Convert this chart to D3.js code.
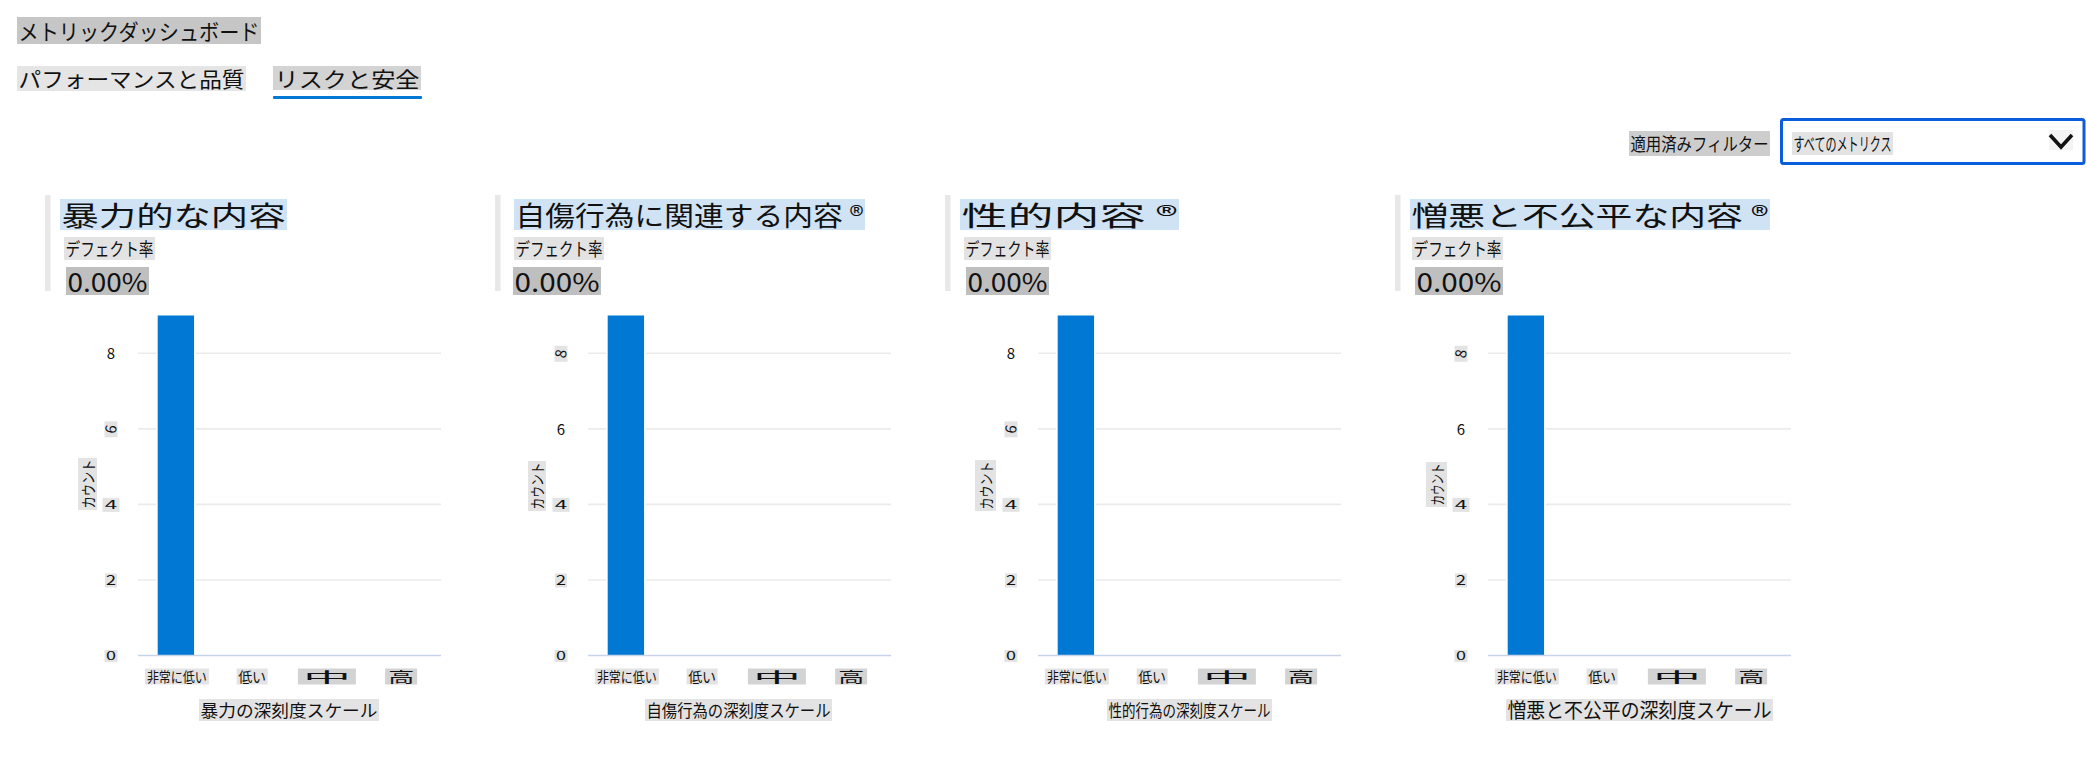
<!DOCTYPE html>
<html lang="ja">
<head>
<meta charset="utf-8">
<title>メトリックダッシュボード</title>
<script src="https://cdn.jsdelivr.net/npm/d3@7"></script>
<style>
html,body{margin:0;padding:0;background:#fff;}
svg{display:block;}
text{font-family:"Noto Sans CJK JP","Noto Sans",sans-serif;fill:#111;}
</style>
</head>
<body>
<div id="chart"></div>
<script>
// ---- data ----
const categories = ["非常に低い", "低い", "中", "高"];
const violenceCounts = [9, 0, 0, 0];
const selfHarmCounts = [9, 0, 0, 0];
const sexualCounts = [9, 0, 0, 0];
const hateCounts = [9, 0, 0, 0];
const yTicks = [0, 2, 4, 6, 8];
const yMax = 9;
const panelTitles = ["暴力的な内容", "自傷行為に関連する内容 ®", "性的内容 ®", "憎悪と不公平な内容 ®"];
const xTitles = ["暴力の深刻度スケール", "自傷行為の深刻度スケール", "性的行為の深刻度スケール", "憎悪と不公平の深刻度スケール"];
const defectRates = ["0.00%", "0.00%", "0.00%", "0.00%"];
const defectLabel = "デフェクト率";
const yTitle = "カウント";
const pageTitle = "メトリックダッシュボード";
const tabs = ["パフォーマンスと品質", "リスクと安全"];
const filterLabel = "適用済みフィルター";
const filterValue = "すべてのメトリクス";
const panelCounts = [violenceCounts, selfHarmCounts, sexualCounts, hateCounts];

// ---- layout (not data) ----
const W = 2086, H = 762;
const plotX = [138, 588, 1038, 1488], plotW = 303;
const plotTop = 315.5, plotBottom = 655.5;
const cardBar = [45, 495, 945, 1395];
const titleBox = [[60,287],[514,865],[960,1179],[1410,1770]];
const defectBox = [[64,155],[514,604],[964,1051],[1412,1503]];
const rateBox = [[66,149],[513,601],[966,1049],[1415,1503]];
const yTitleBox = [[78,97,456,508],[528,546,459,509],[975,996,458,509],[1426,1447,460,505]];
const xTitleBox = [[199,379],[645,832],[1107,1272],[1506,1773]];
const xLabelText = [60, 28, 48, 26], xLabelChip = [64, 31, 58, 32], xLabelDx = [1, 0.5, -0.5, -2];
const rotatedTick = [6, 8, 6, 8];
const C = {blue:"#0078d4", grid:"#edebe9", base:"#c7d4ea", card:"#e8e8e8", title:"#cfe3f5",
           chipL:"#e3e3e3", chipM:"#d3d3d3", chipD:"#c3c3c3", rate:"#bfbfbf", tab:"#e5e5e5", focus:"#0a5ddb"};

const svg = d3.select("#chart").append("svg").attr("width", W).attr("height", H).attr("viewBox", [0,0,W,H]);

function fitted(sel, x0, x1, y0, y1, fill, str, size, pad = 1.5, weight = 400) {
  sel.append("rect").attr("x", x0).attr("y", y0).attr("width", x1-x0).attr("height", y1-y0).attr("fill", fill);
  sel.append("text").attr("x", x0+pad).attr("y", (y0+y1)/2 + size*0.42)
    .attr("font-size", size).attr("font-weight", weight)
    .attr("textLength", x1-x0-2*pad).attr("lengthAdjust", "spacingAndGlyphs").text(str);
}

// header
fitted(svg, 17, 261, 17, 44, "#c6c6c6", pageTitle, 22);
fitted(svg, 17, 246, 66, 91, C.tab, tabs[0], 21);
fitted(svg, 273, 421, 66, 90, C.chipM, tabs[1], 21);
svg.append("rect").attr("x", 273).attr("y", 96).attr("width", 149).attr("height", 3).attr("rx", 1).attr("fill", C.blue);

// filter
fitted(svg, 1629, 1770, 131, 156, "#cdcdcd", filterLabel, 18);
svg.append("rect").attr("x", 1781.5).attr("y", 119.5).attr("width", 302.5).attr("height", 44).attr("rx", 2)
  .attr("fill", "#fff").attr("stroke", C.focus).attr("stroke-width", 3);
fitted(svg, 1792, 1893, 132, 155, C.chipL, filterValue, 18);
svg.append("rect").attr("x", 2049).attr("y", 130).attr("width", 24).attr("height", 20).attr("fill", "#f3f3f3");
svg.append("path").attr("d", d3.line()([[2050,135],[2061,147],[2072,135]]))
  .attr("fill", "none").attr("stroke", "#111").attr("stroke-width", 3.6);

// panels
panelCounts.forEach((counts, i) => {
  const g = svg.append("g");
  const x = d3.scaleBand().domain(categories).range([plotX[i], plotX[i]+plotW]).paddingInner(0.52).paddingOuter(0.26);
  const y = d3.scaleLinear().domain([0, yMax]).range([plotBottom, plotTop]);

  // card header
  g.append("rect").attr("x", cardBar[i]).attr("y", 195).attr("width", 5.5).attr("height", 96).attr("fill", C.card);
  fitted(g, titleBox[i][0], titleBox[i][1], 199, 230, C.title, panelTitles[i], 27);
  fitted(g, defectBox[i][0], defectBox[i][1], 237, 260, C.chipL, defectLabel, 18);
  fitted(g, rateBox[i][0], rateBox[i][1], 267, 295, C.rate, defectRates[i], 26);

  // gridlines
  g.append("g").selectAll("line").data(yTicks.filter(d => d > 0)).join("line")
    .attr("x1", plotX[i]).attr("x2", plotX[i]+plotW)
    .attr("y1", d => y(d)).attr("y2", d => y(d))
    .attr("stroke", C.grid).attr("stroke-width", 1.6);

  // bars
  g.append("g").selectAll("rect").data(categories.map((c, k) => ({c, v: counts[k]})).filter(d => d.v > 0)).join("rect")
    .attr("x", d => x(d.c)).attr("width", x.bandwidth())
    .attr("y", d => y(d.v)).attr("height", d => y(0) - y(d.v))
    .attr("fill", C.blue).attr("stroke", "#fff").attr("stroke-width", 3).attr("paint-order", "stroke");

  // baseline
  g.append("line").attr("x1", plotX[i]).attr("x2", plotX[i]+plotW).attr("y1", y(0)).attr("y2", y(0))
    .attr("stroke", C.base).attr("stroke-width", 1.6);

  // y axis
  const ya = g.append("g").attr("transform", `translate(${plotX[i]},0)`)
    .call(d3.axisLeft(y).tickValues(yTicks).tickSize(0).tickPadding(0).tickFormat(d3.format("d")));
  ya.select(".domain").remove();
  ya.selectAll(".tick").each(function(d) {
    const t = d3.select(this);
    const label = t.select("text").attr("x", -27).attr("dy", "0.36em").attr("text-anchor", "middle")
      .attr("font-family", null).style("font-size", "15px").attr("fill", "#222");
    let tf = null, chip = null;
    if (d === rotatedTick[i]) { tf = "rotate(-80)"; chip = [13, 16]; }
    else if (d === 4) { tf = "scale(1.5,0.75)"; chip = [17, 14]; }
    else if (d === 2) { tf = "scale(1.2,0.9)"; chip = [12, 14]; }
    else if (d === 0) { tf = "scale(1.2,0.75)"; chip = [13, 12]; }
    if (tf) {
      t.insert("rect", "text").attr("x", -27-chip[0]/2).attr("y", -chip[1]/2)
        .attr("width", chip[0]).attr("height", chip[1]).attr("fill", C.chipL);
      label.attr("x", 0).attr("transform", `translate(-27,0) ${tf}`);
    }
  });

  // y title
  const [bx0, bx1, by0, by1] = yTitleBox[i];
  const yt = g.append("g").attr("transform", `translate(${(bx0+bx1)/2},${(by0+by1)/2+2}) rotate(-90)`);
  fitted(yt, -(by1-by0)/2, (by1-by0)/2, -(bx1-bx0)/2, (bx1-bx0)/2, C.chipL, yTitle, 15);

  // x axis
  const xa = g.append("g").attr("transform", `translate(0,${plotBottom})`)
    .call(d3.axisBottom(x).tickSize(0).tickPadding(0));
  xa.select(".domain").remove();
  xa.selectAll(".tick").each(function(d, k) {
    const t = d3.select(this);
    t.insert("rect", "text").attr("x", xLabelDx[k]-xLabelChip[k]/2).attr("y", 13)
      .attr("width", xLabelChip[k]).attr("height", 16).attr("fill", k >= 2 ? C.chipM : C.chipL);
    t.select("text").attr("x", xLabelDx[k]).attr("y", 26).attr("dy", null).attr("text-anchor", "middle")
      .attr("font-family", null).style("font-size", "14px").attr("fill", "#222")
      .attr("textLength", xLabelText[k]).attr("lengthAdjust", "spacingAndGlyphs");
  });

  // x title
  fitted(g, xTitleBox[i][0], xTitleBox[i][1], 699, 721, C.chipL, xTitles[i], i === 3 ? 20 : 17);
});
</script>
</body>
</html>
